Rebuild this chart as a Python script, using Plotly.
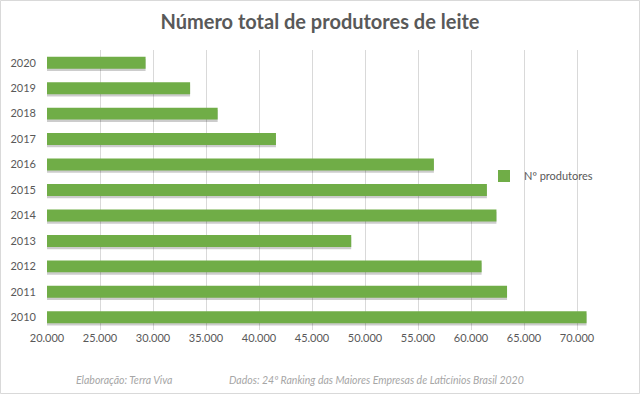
import plotly.graph_objects as go

years = ["2010", "2011", "2012", "2013", "2014", "2015", "2016", "2017", "2018", "2019", "2020"]
produtores = [70900, 63400, 61000, 48700, 62400, 61500, 56500, 41600, 36100, 33500, 29300]
tick_vals = [20000, 25000, 30000, 35000, 40000, 45000, 50000, 55000, 60000, 65000, 70000]
tick_text = ["20.000", "25.000", "30.000", "35.000", "40.000", "45.000", "50.000",
             "55.000", "60.000", "65.000", "70.000"]

W, H = 640, 394
ML, MR, MT, MB = 47, 10, 50, 64
pw, ph = W - ML - MR, H - MT - MB
XR = [20000, 75000]
YR = [-0.5, 10.5]

def px_x(p):
    return (p - ML) / pw

def px_y(p):
    return (H - MB - p) / ph

font = "Lato, 'Open Sans', sans-serif"
grey = "#595959"
bw = 0.47

fig = go.Figure()
# shadow
fig.add_trace(go.Bar(y=years, x=produtores, orientation="h", width=bw, offset=-bw / 2 - 0.09,
                     marker=dict(color="rgba(0,0,0,0.20)", line=dict(width=0)),
                     showlegend=False, hoverinfo="skip"))
# main bars
fig.add_trace(go.Bar(y=years, x=produtores, orientation="h", name="Nº produtores",
                     width=bw, offset=-bw / 2,
                     marker=dict(color="#70AD47", line=dict(width=0))))

fig.update_layout(
    width=W, height=H, autosize=False,
    margin=dict(l=ML, r=MR, t=MT, b=MB),
    paper_bgcolor="white", plot_bgcolor="white",
    barmode="overlay",
    font=dict(family=font, color=grey, size=11),
    title=dict(text="<b>Número total de produtores de leite</b>", x=0.5, xanchor="center",
               y=1 - 22 / H, yanchor="middle", xref="container",
               font=dict(family=font, size=20, color=grey)),
    xaxis=dict(range=XR, tickvals=tick_vals, ticktext=tick_text, showgrid=True,
               gridcolor="#D9D9D9", gridwidth=1, zeroline=False, showline=False,
               ticks="", tickfont=dict(size=11, color=grey)),
    yaxis=dict(range=YR, type="category", categoryarray=years, categoryorder="array",
               showgrid=False, zeroline=False, showline=False, ticks="",
               ticklabelstandoff=10, tickfont=dict(size=11, color=grey)),
    legend=dict(x=px_x(484), y=px_y(176), xanchor="left", yanchor="middle",
                bgcolor="rgba(0,0,0,0)", font=dict(size=11, color=grey),
                itemwidth=30),
    showlegend=True,
)

fig.add_annotation(text="<i>Elaboração: Terra Viva</i>", xref="paper", yref="paper",
                   x=px_x(74), y=px_y(380), xanchor="left", yanchor="middle",
                   showarrow=False, font=dict(family=font, size=10.5, color="#A6A6A6"))
fig.add_annotation(text="<i>Dados: 24º Ranking das Maiores Empresas de Laticínios Brasil 2020</i>",
                   xref="paper", yref="paper",
                   x=px_x(227), y=px_y(380), xanchor="left", yanchor="middle",
                   showarrow=False, font=dict(family=font, size=10.5, color="#A6A6A6"))
fig.add_shape(type="rect", xref="paper", yref="paper",
              x0=px_x(0.5), x1=px_x(W - 0.5), y0=px_y(H - 0.5), y1=px_y(0.5),
              line=dict(color="#D9D9D9", width=1), layer="below")

fig.write_html("out.html", config={"displayModeBar": False},
               post_script="document.body.style.margin='0';")
